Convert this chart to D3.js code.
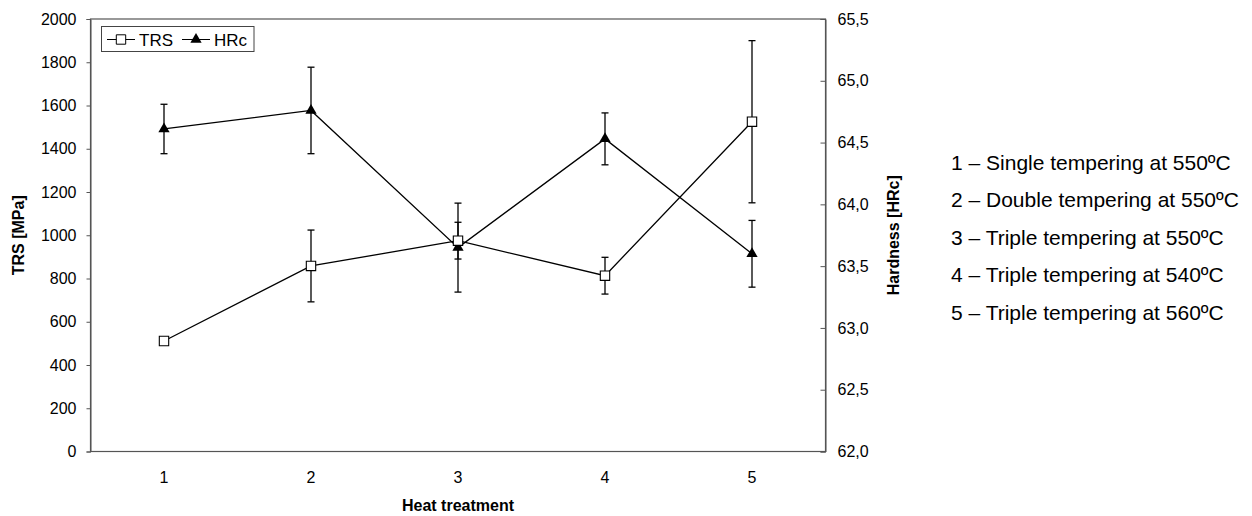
<!DOCTYPE html>
<html><head><meta charset="utf-8">
<script src="https://cdn.jsdelivr.net/npm/d3@7"></script>
<style>body{margin:0;background:#fff;} text{font-family:Arial,"Liberation Sans",sans-serif;fill:#000;}</style>
</head><body><svg id="c" width="1252" height="516"></svg>
<script>
const categories = ["1","2","3","4","5"];
const trsValues = [511, 858, 975, 813, 1525];
const trsErrors = [10, 166, 85, 85, 375];
const hrcValues = [64.61, 64.76, 63.65, 64.53, 63.60];
const hrcErrors = [0.20, 0.35, 0.36, 0.21, 0.27];
const leftTicks = [0,200,400,600,800,1000,1200,1400,1600,1800,2000];
const rightTicks = [62.0,62.5,63.0,63.5,64.0,64.5,65.0,65.5];
const notes = ["1 \u2013 Single tempering at 550\u00baC","2 \u2013 Double tempering at 550\u00baC","3 \u2013 Triple tempering at 550\u00baC","4 \u2013 Triple tempering at 540\u00baC","5 \u2013 Triple tempering at 560\u00baC"];

const svg = d3.select("#c");
const L=90.5, R=825.5, T=19, B=451.5;
const x = d3.scaleBand().domain(categories).range([L,R]);
const cx = d => x(d)+x.bandwidth()/2;
const yL = d3.scaleLinear().domain([0,2000]).range([B,T]);
const yR = d3.scaleLinear().domain([62,65.5]).range([B,T]);

svg.append("rect").attr("x",L).attr("y",T).attr("width",R-L).attr("height",B-T).attr("fill","none").attr("stroke","#555").attr("stroke-width",1.2);

const gl = svg.append("g").attr("transform",`translate(${L},0)`).call(d3.axisLeft(yL).tickValues(leftTicks).tickSize(4).tickPadding(10).tickFormat(d3.format("d")));
gl.select(".domain").attr("stroke","#555");
gl.selectAll(".tick line").attr("stroke","#555");
gl.selectAll("text").style("font-size","16px").attr("font-family",null);
const fmt = d => d.toFixed(1).replace(".",",");
const gr = svg.append("g").attr("transform",`translate(${R},0)`).call(d3.axisRight(yR).tickValues(rightTicks).tickSize(-5).tickPadding(12).tickFormat(fmt));
gr.select(".domain").attr("stroke","#555");
gr.selectAll(".tick line").attr("stroke","#555");
gr.selectAll("text").style("font-size","16px").attr("font-family",null);
const gb = svg.append("g").attr("transform",`translate(0,${B})`).call(d3.axisBottom(x).tickSize(0).tickPadding(20));
gb.select(".domain").remove();
gb.selectAll("text").style("font-size","16px").attr("font-family",null);

svg.append("text").attr("transform",`translate(24,${(T+B)/2}) rotate(-90)`).attr("text-anchor","middle").attr("font-weight","bold").style("font-size","16px").text("TRS [MPa]");
svg.append("text").attr("transform",`translate(899,${(T+B)/2}) rotate(-90)`).attr("text-anchor","middle").attr("font-weight","bold").style("font-size","16px").text("Hardness [HRc]");
svg.append("text").attr("x",(L+R)/2).attr("y",511).attr("text-anchor","middle").attr("font-weight","bold").style("font-size","16px").text("Heat treatment");

const lineT = d3.line().x((d,i)=>cx(categories[i])).y(d=>yL(d));
const lineH = d3.line().x((d,i)=>cx(categories[i])).y(d=>yR(d));
svg.append("path").attr("d",lineT(trsValues)).attr("fill","none").attr("stroke","#000").attr("stroke-width",1.3);
svg.append("path").attr("d",lineH(hrcValues)).attr("fill","none").attr("stroke","#000").attr("stroke-width",1.3);

function errBars(vals, errs, y){
  const g = svg.append("g").attr("stroke","#000").attr("stroke-width",1.3);
  vals.forEach((v,i)=>{
    const X = cx(categories[i]);
    g.append("line").attr("x1",X).attr("x2",X).attr("y1",y(v-errs[i])).attr("y2",y(v+errs[i]));
    [v-errs[i], v+errs[i]].forEach(e=>g.append("line").attr("x1",X-3.5).attr("x2",X+3.5).attr("y1",y(e)).attr("y2",y(e)));
  });
}
errBars(trsValues, trsErrors, yL);
errBars(hrcValues, hrcErrors, yR);

const sq = d3.symbol().type(d3.symbolSquare).size(88);
const tri = d3.symbol().type(d3.symbolTriangle).size(55);
svg.append("g").selectAll("path").data(hrcValues).join("path").attr("d",tri).attr("transform",(d,i)=>`translate(${cx(categories[i])},${yR(d)})`).attr("fill","#000");
svg.append("g").selectAll("path").data(trsValues).join("path").attr("d",sq).attr("transform",(d,i)=>`translate(${cx(categories[i])},${yL(d)})`).attr("fill","#fff").attr("stroke","#000").attr("stroke-width",1.1);

const lg = svg.append("g");
lg.append("rect").attr("x",101.5).attr("y",26.5).attr("width",152.5).attr("height",25).attr("fill","#fff").attr("stroke","#444");
const ly = 39.5;
lg.append("line").attr("x1",107).attr("x2",135).attr("y1",ly).attr("y2",ly).attr("stroke","#000");
lg.append("path").attr("d",sq).attr("transform",`translate(121,${ly})`).attr("fill","#fff").attr("stroke","#000");
lg.append("text").attr("x",139).attr("y",ly+6).style("font-size","17px").text("TRS");
lg.append("line").attr("x1",182).attr("x2",210).attr("y1",ly).attr("y2",ly).attr("stroke","#000");
lg.append("path").attr("d",tri).attr("transform",`translate(196,${ly})`).attr("fill","#000");
lg.append("text").attr("x",214).attr("y",ly+6).style("font-size","17px").text("HRc");

svg.append("g").selectAll("text").data(notes).join("text").attr("x",951).attr("y",(d,i)=>170+i*37.4).style("font-size","21px").text(d=>d);
</script></body></html>
